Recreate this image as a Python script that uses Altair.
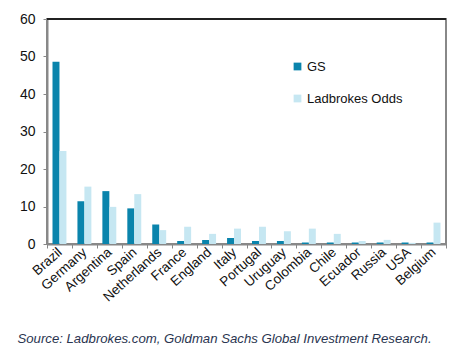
import altair as alt
import pandas as pd

countries = ["Brazil", "Germany", "Argentina", "Spain", "Netherlands", "France",
             "England", "Italy", "Portugal", "Uruguay", "Colombia", "Chile",
             "Ecuador", "Russia", "USA", "Belgium"]
gs = [48.6, 11.4, 14.1, 9.5, 5.2, 0.8, 1.1, 1.6, 0.8, 0.8, 0.4, 0.4, 0.4, 0.4, 0.4, 0.4]
ladbrokes = [24.8, 15.3, 9.9, 13.3, 3.7, 4.6, 2.7, 4.1, 4.6, 3.4, 4.1, 2.7, 0.8, 1.1, 0.3, 5.7]
series = ["GS", "Ladbrokes Odds"]
colors = ["#0a84ac", "#c6e7f2"]
y_ticks = [0, 10, 20, 30, 40, 50, 60]
source = "Source: Ladbrokes.com, Goldman Sachs Global Investment Research."

rows = []
for c, g, l in zip(countries, gs, ladbrokes):
    rows.append({"country": c, "series": series[0], "value": g})
    rows.append({"country": c, "series": series[1], "value": l})
df = pd.DataFrame(rows)

FONT = "Liberation Sans"

y_axis = alt.Axis(values=y_ticks, grid=False, tickSize=4, tickColor="#888",
                  domainColor="#888", domainWidth=2, labelFontSize=14,
                  labelColor="#111", labelFont=FONT, labelPadding=8)
y_scale = alt.Scale(domain=[0, 60], nice=False)

bars = alt.Chart(df).mark_bar().encode(
    x=alt.X("country:N", sort=countries, title=None,
            scale=alt.Scale(paddingInner=0, paddingOuter=0),
            axis=alt.Axis(labelAngle=-42, labelAlign="right", labelBaseline="middle",
                          labelFontSize=13.5, labelColor="#111", labelFont=FONT,
                          tickBand="extent", tickSize=4, tickColor="#888",
                          domainColor="#888", domainWidth=2, labelPadding=2)),
    xOffset=alt.XOffset("series:N", sort=series,
                        scale=alt.Scale(paddingInner=0, paddingOuter=0.79)),
    y=alt.Y("value:Q", title=None, scale=y_scale, axis=y_axis),
    color=alt.Color("series:N", sort=series,
                    scale=alt.Scale(domain=series, range=colors),
                    legend=alt.Legend(title=None, orient="none", legendX=244, legendY=41,
                                      symbolType="square", symbolSize=60,
                                      symbolStrokeWidth=0, labelFontSize=13,
                                      labelFont=FONT, labelColor="#111",
                                      rowPadding=18, labelOffset=3)),
)

top_line = alt.Chart(df).mark_rule(color="#222", strokeWidth=1.5).encode(
    y=alt.YDatum(60, title=None, scale=y_scale, axis=y_axis)
)

chart = alt.layer(bars, top_line).properties(
    width=399, height=225,
    title=alt.TitleParams(source, orient="bottom", anchor="start", fontSize=13.2,
                          font=FONT, fontStyle="italic", fontWeight="normal",
                          color="#2a3550", dx=-2, offset=29),
).configure(
    autosize=alt.AutoSizeParams(type="none"),
    padding={"left": 47, "top": 19, "right": 30, "bottom": 107},
).configure_view(
    stroke="#888", strokeWidth=2
)

chart.save("out.html", embed_options={"renderer": "svg", "actions": False})
